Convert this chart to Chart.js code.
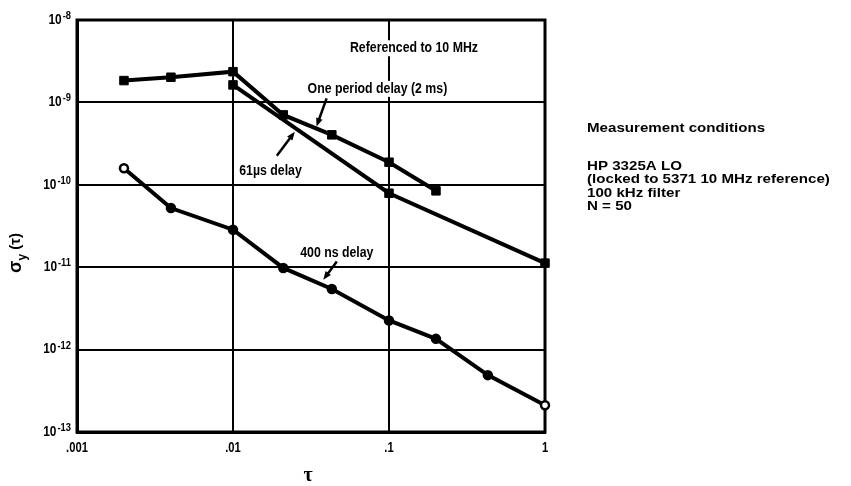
<!DOCTYPE html>
<html>
<head>
<meta charset="utf-8">
<script src="https://cdn.jsdelivr.net/npm/chart.js@4.4.1/dist/chart.umd.min.js"></script>
<style>
  html, body { margin: 0; padding: 0; background: #fff; }
  canvas { display: block; }
</style>
</head>
<body>
<canvas id="chart" width="851" height="486"></canvas>
<script>
// Axis ticks
const tauTicks = [0.001, 0.01, 0.1, 1];
const tauTickLabels = [".001", ".01", ".1", "1"];
const sigmaTicks = [1e-13, 1e-12, 1e-11, 1e-10, 1e-9, 1e-8];
const sigmaExponents = ["-13", "-12", "-11", "-10", "-9", "-8"];

// One period delay (2 ms)
const onePeriodTau = [0.002, 0.004, 0.01, 0.021, 0.043, 0.1, 0.2];
const onePeriodSigma = [1.84e-9, 2.02e-9, 2.36e-9, 7.05e-10, 4.04e-10, 1.88e-10, 8.45e-11];

// 61 us delay
const delay61Tau = [0.01, 0.1, 1];
const delay61Sigma = [1.63e-9, 7.9e-11, 1.12e-11];

// 400 ns delay
const delay400Tau = [0.002, 0.004, 0.01, 0.021, 0.043, 0.1, 0.2, 0.43, 1];
const delay400Sigma = [1.59e-10, 5.22e-11, 2.85e-11, 9.8e-12, 5.44e-12, 2.26e-12, 1.35e-12, 4.9e-13, 2.11e-13];

const conditionsTitle = "Measurement conditions";
const conditions = [
    "HP 3325A LO",
    "(locked to 5371 10 MHz reference)",
    "100 kHz filter",
    "N = 50"
];

const SANS = '"Liberation Sans", Arial, sans-serif';

// Labels placed in data coordinates, arrows go from "from" to "tip"
const notes = [
    { text: "Referenced to 10 MHz", x: 0.1445, y: 4.54e-9, clear: true },
    { text: "One period delay (2 ms)", x: 0.0843, y: 1.46e-9, clear: true,
      from: [0.0398, 1.12e-9], tip: [0.0343, 5.09e-10] },
    { text: "61\u00b5s delay", x: 0.0174, y: 1.45e-10,
      from: [0.0191, 2.25e-10], tip: [0.0249, 4.39e-10] },
    { text: "400 ns delay", x: 0.0463, y: 1.49e-11,
      from: [0.0463, 1.17e-11], tip: [0.0379, 7.05e-12] }
];

function toPoints(xs, ys) {
    return xs.map((v, i) => ({ x: v, y: ys[i] }));
}

// draws text squeezed or stretched horizontally
function drawText(ctx, text, x, y, font, align, scaleX) {
    ctx.save();
    ctx.font = font;
    ctx.textAlign = align;
    ctx.textBaseline = "middle";
    ctx.translate(x, y);
    ctx.scale(scaleX, 1);
    ctx.fillText(text, 0, 0);
    ctx.restore();
}

function drawArrow(ctx, x1, y1, x2, y2) {
    const ang = Math.atan2(y2 - y1, x2 - x1);
    const head = 9;
    ctx.beginPath();
    ctx.moveTo(x1, y1);
    ctx.lineTo(x2 - Math.cos(ang) * head * 0.8, y2 - Math.sin(ang) * head * 0.8);
    ctx.lineWidth = 2.5;
    ctx.stroke();
    ctx.beginPath();
    ctx.moveTo(x2, y2);
    ctx.lineTo(x2 - head * Math.cos(ang - 0.38), y2 - head * Math.sin(ang - 0.38));
    ctx.lineTo(x2 - head * Math.cos(ang + 0.38), y2 - head * Math.sin(ang + 0.38));
    ctx.closePath();
    ctx.fill();
}

const framePlugin = {
    id: "frame",
    beforeDatasetsDraw(chart) {
        const { ctx, chartArea: a } = chart;
        ctx.save();
        ctx.strokeStyle = "#000";
        ctx.lineWidth = 3;
        ctx.strokeRect(a.left, a.top, a.right - a.left, a.bottom - a.top);
        ctx.restore();
    },
    afterDatasetsDraw(chart) {
        const { ctx, scales: { x, y } } = chart;
        ctx.save();
        ctx.fillStyle = "#000";
        ctx.strokeStyle = "#000";

        // x tick labels
        tauTicks.forEach((v, i) => {
            drawText(ctx, tauTickLabels[i], x.getPixelForValue(v), 448, "bold 14px " + SANS, "center", 0.8);
        });

        // y tick labels: 10 with superscript exponent
        sigmaTicks.forEach((v, i) => {
            const py = y.getPixelForValue(v);
            ctx.font = "bold 11px " + SANS;
            const expW = ctx.measureText(sigmaExponents[i]).width * 0.85;
            drawText(ctx, sigmaExponents[i], 71, py - 4, "bold 11px " + SANS, "right", 0.85);
            drawText(ctx, "10", 71 - expW - 1, py, "bold 14px " + SANS, "right", 0.85);
        });

        // annotations
        const noteFont = "bold 14px " + SANS;
        notes.forEach(n => {
            const px = x.getPixelForValue(n.x);
            const py = y.getPixelForValue(n.y);
            if (n.clear) {
                ctx.font = noteFont;
                const w = ctx.measureText(n.text).width * 0.88;
                ctx.fillStyle = "#fff";
                ctx.fillRect(px - w / 2 - 2, py - 8, w + 4, 16);
                ctx.fillStyle = "#000";
            }
            drawText(ctx, n.text, px, py, noteFont, "center", 0.88);
            if (n.from) {
                drawArrow(ctx,
                    x.getPixelForValue(n.from[0]), y.getPixelForValue(n.from[1]),
                    x.getPixelForValue(n.tip[0]), y.getPixelForValue(n.tip[1]));
            }
        });

        // axis titles
        drawText(ctx, "\u03c4", 308, 476, "bold 20px \"Liberation Serif\", serif", "center", 1);

        ctx.save();
        ctx.translate(21, 253);
        ctx.rotate(-Math.PI / 2);
        ctx.textAlign = "left";
        ctx.font = "bold 18px " + SANS;
        const sw = ctx.measureText("\u03c3").width;
        ctx.font = "bold 12px " + SANS;
        const yw = ctx.measureText("y").width;
        ctx.font = "bold 15px " + SANS;
        const tw = ctx.measureText(" (\u03c4)").width;
        let cx = -(sw + yw + tw) / 2;
        ctx.font = "bold 18px " + SANS;
        ctx.fillText("\u03c3", cx, 0);
        cx += sw;
        ctx.font = "bold 12px " + SANS;
        ctx.fillText("y", cx, 5);
        cx += yw;
        ctx.font = "bold 15px " + SANS;
        ctx.fillText(" (\u03c4)", cx, -1);
        ctx.restore();

        // measurement conditions
        const condFont = "bold 13.5px " + SANS;
        drawText(ctx, conditionsTitle, 587, 128, condFont, "left", 1.12);
        conditions.forEach((line, i) => {
            drawText(ctx, line, 587, 166 + i * 13.4, condFont, "left", 1.12);
        });
        ctx.restore();
    }
};

const lineStyle = {
    borderColor: "#000",
    borderWidth: 4,
    pointBorderColor: "#000",
    tension: 0,
    clip: false
};

const chart = new Chart(document.getElementById("chart"), {
    type: "line",
    data: {
        datasets: [
            Object.assign({
                label: "One period delay (2 ms)",
                data: toPoints(onePeriodTau, onePeriodSigma),
                pointStyle: "rect",
                pointRadius: 6,
                pointBorderWidth: 1,
                pointBackgroundColor: "#000"
            }, lineStyle),
            Object.assign({
                label: "61\u00b5s delay",
                data: toPoints(delay61Tau, delay61Sigma),
                pointStyle: "rect",
                pointRadius: 6,
                pointBorderWidth: 1,
                pointBackgroundColor: "#000"
            }, lineStyle),
            Object.assign({
                label: "400 ns delay",
                data: toPoints(delay400Tau, delay400Sigma),
                pointStyle: "circle",
                pointRadius: 4,
                pointBorderWidth: 2.5,
                pointBackgroundColor: delay400Tau.map((v, i) =>
                    (i === 0 || i === delay400Tau.length - 1) ? "#fff" : "#000")
            }, lineStyle)
        ]
    },
    options: {
        responsive: false,
        animation: false,
        layout: { padding: { top: 20, right: 306, left: 0, bottom: 0 } },
        plugins: {
            legend: { display: false },
            tooltip: { enabled: false }
        },
        scales: {
            x: {
                type: "logarithmic",
                min: 0.001,
                max: 1,
                afterBuildTicks: scale => { scale.ticks = tauTicks.map(v => ({ value: v })); },
                afterFit: scale => { scale.height = 54; },
                ticks: { display: false },
                grid: { color: "#000", lineWidth: 2, drawTicks: false },
                border: { color: "#000", width: 3 }
            },
            y: {
                type: "logarithmic",
                min: 1e-13,
                max: 1e-8,
                afterBuildTicks: scale => { scale.ticks = sigmaTicks.map(v => ({ value: v })); },
                afterFit: scale => { scale.width = 77; },
                ticks: { display: false },
                grid: { color: "#000", lineWidth: 2, drawTicks: false },
                border: { color: "#000", width: 3 }
            }
        }
    },
    plugins: [framePlugin]
});
</script>
</body>
</html>
